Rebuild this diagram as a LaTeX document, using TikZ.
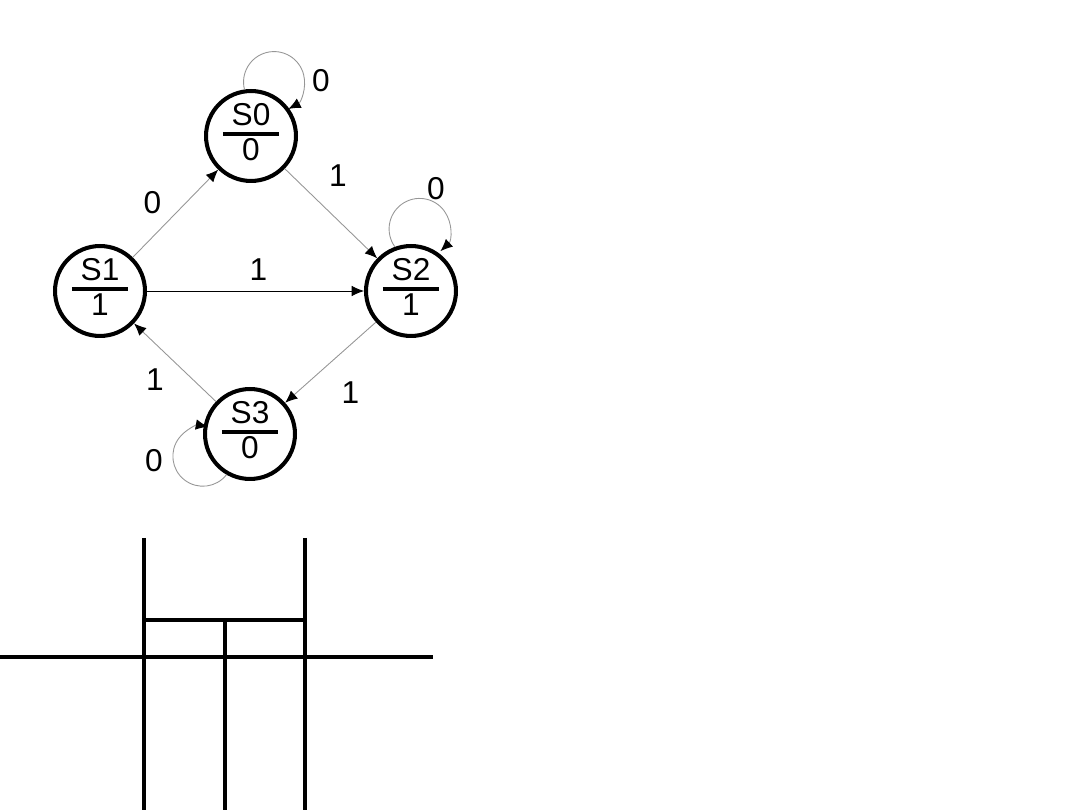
\documentclass[tikz,border=0pt]{standalone}
\usepackage{fontspec}
\setmainfont{Liberation Sans}
\usetikzlibrary{arrows.meta, positioning}
\definecolor{edgegrey}{RGB}{150,150,150}
\definecolor{inkblack}{RGB}{0,0,0}
\newcommand{\statelabel}[2]{{\setlength{\arrayrulewidth}{2.2pt}\setlength{\tabcolsep}{5pt}\begin{tabular}{c}#1\\[-2pt]\hline #2\end{tabular}}}

\begin{document}
\begin{tikzpicture}[
    x=0.02cm, y=-0.02cm,
    state/.style={circle, draw=inkblack, line width=2.3pt, minimum size=1.66cm, inner sep=0pt, font=\fontsize{18}{20}\selectfont},
    trans/.style={draw=edgegrey, line width=0.5pt, -{Latex[length=7pt,width=6pt,color=inkblack]}},
    lbl/.style={font=\fontsize{18}{20}\selectfont, inner sep=0pt},
    wall/.style={draw=inkblack, line width=2pt}
]
\useasboundingbox (0,0) rectangle (1080,810);

\node [state] (s0) at (251,136) {\statelabel{S0}{0}};
\node [state] (s1) at (100,291) {\statelabel{S1}{1}};
\node [state] (s2) at (411,291) {\statelabel{S2}{1}};
\node [state] (s3) at (250,434) {\statelabel{S3}{0}};

\path [trans] (s1) -- node[lbl, shift={(-23,-11)}]{0} (s0);
\path [trans] (s0) -- node[lbl, shift={(7,-38)}]{1} (s2);
\path [trans, draw=inkblack] (s1) -- node[lbl, shift={(3,-21)}]{1} (s2);
\path [trans] (s2) -- node[lbl, shift={(20,30)}]{1} (s3);
\path [trans] (s3) -- node[lbl, shift={(-20,17)}]{1} (s1);

% self loops
\path [trans] (s0.98) arc[start angle=194, end angle=-62, radius=0.61cm];
\path [trans] (s2.110) arc[start angle=216, end angle=-47, radius=0.61cm];
\path [trans] (s3.240) arc[start angle=-38, end angle=-280, radius=0.6cm];
\node [lbl] (loop0) at (321,81) {0};
\node [lbl] (loop2) at (436,189) {0};
\node [lbl] (loop3) at (154,461) {0};

% lower frame
\draw [wall] (144,538) -- (144,810);
\draw [wall] (305,538) -- (305,810);
\draw [wall] (144,620) -- (305,620);
\draw [wall] (225,620) -- (225,810);
\draw [wall] (0,657) -- (433,657);

\end{tikzpicture}
\end{document}
